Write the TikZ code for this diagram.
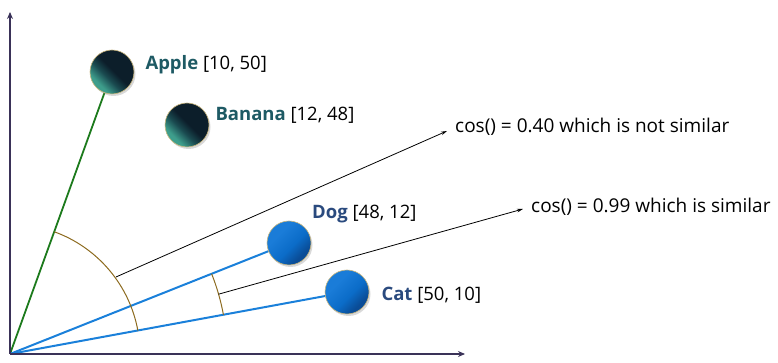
\documentclass[tikz,border=0pt]{standalone}
\usepackage{fontspec}
\setmainfont{Open Sans}
\usetikzlibrary{positioning,arrows.meta,shadows}

\definecolor{axiscol}{HTML}{3A3258}
\definecolor{applegreen}{HTML}{1C7A1C}
\definecolor{vecblue}{HTML}{1A80DA}
\definecolor{arccol}{HTML}{8C6A1E}
\definecolor{fruitnavy}{HTML}{0C1E2A}
\definecolor{fruitteal}{HTML}{3E9E8C}
\definecolor{fruitmid}{HTML}{1A4A50}
\definecolor{petlight}{HTML}{1A7CD8}
\definecolor{petmid}{HTML}{0B6CC8}
\definecolor{petdark}{HTML}{0A4C96}
\definecolor{ballrim}{HTML}{CBB77E}
\definecolor{fruittext}{HTML}{1E5A64}
\definecolor{pettext}{HTML}{2A4A7E}

\pgfdeclareverticalshading{fruitfill}{100bp}{color(0bp)=(fruitteal); color(30bp)=(fruitteal); color(42bp)=(fruitmid); color(52bp)=(fruitnavy); color(100bp)=(fruitnavy)}
\pgfdeclareverticalshading{petfill}{100bp}{color(0bp)=(petdark); color(30bp)=(petdark); color(45bp)=(petmid); color(65bp)=(petlight); color(100bp)=(petlight)}

\begin{document}
\begin{tikzpicture}[x=1pt,y=1pt,font=\fontsize{18.5}{22}\selectfont,
    axis/.style={draw=axiscol,line width=1.8pt,-{Stealth[length=7pt,width=6pt]}},
    ball/.style={circle,minimum size=44pt,inner sep=0pt,draw=ballrim,line width=0.6pt,
      drop shadow={opacity=0.3,shadow xshift=1.5pt,shadow yshift=-2pt}},
    fruit/.style={ball,shading=fruitfill,shading angle=-45},
    pet/.style={ball,shading=petfill,shading angle=45},
    vec/.style={line width=2pt},
    angarc/.style={draw=arccol,line width=1pt},
    note/.style={draw=black,line width=0.8pt,-{Stealth[length=6pt,width=3.5pt]},font=\fontsize{19}{22}\selectfont},
    tag/.style={inner sep=0pt,anchor=west}]
  \useasboundingbox (0,0) rectangle (778,363);

  % axes
  \coordinate (origin) at (10,9);
  \coordinate (ytop) at (10,351);
  \coordinate (xend) at (465,9);

  % vectors
  \draw[vec,applegreen,line width=1.8pt] (origin) -- (112,291);
  \draw[vec,vecblue] (origin) -- (289,120);
  \draw[vec,vecblue] (origin) -- (347,71);

  % angles between the vectors
  \draw[angarc] (origin) ++(10.4:130) arc (10.4:70.1:130);
  \draw[angarc] (origin) ++(10.4:217) arc (10.4:21.7:217);

  % balls
  \node[fruit] (apple) at (112,291) {};
  \node[fruit] (banana) at (187,238) {};
  \node[pet] (dog) at (289,120) {};
  \node[pet] (cat) at (347,71) {};

  \draw[axis] (origin) -- (ytop);
  \draw[axis] (origin) -- (xend);

  % labels
  \node[tag,right=11pt of apple,yshift=7pt] (applelbl) {\textbf{\color{fruittext}Apple} [10, 50]};
  \node[tag,right=6pt of banana,yshift=10pt] (bananalbl) {\textbf{\color{fruittext}Banana} [12, 48]};
  \node[tag,anchor=west] (doglbl) at (312,149) {\textbf{\color{pettext}Dog} [48, 12]};
  \node[tag,right=12pt of cat,yshift=-3pt] (catlbl) {\textbf{\color{pettext}Cat} [50, 10]};

  % cosine notes
  \node[tag,font=\fontsize{19}{22}\selectfont] (simnot) at (455,236) {cos() = 0.40 which is not similar};
  \node[tag,font=\fontsize{19}{22}\selectfont] (simyes) at (531,156) {cos() = 0.99 which is similar};
  \draw[note] (origin) ++(36:131) -- ([xshift=-8pt,yshift=-4pt]simnot.west);
  \draw[note] (origin) ++(16:217) -- ([xshift=-8pt,yshift=-2pt]simyes.west);
\end{tikzpicture}
\end{document}
